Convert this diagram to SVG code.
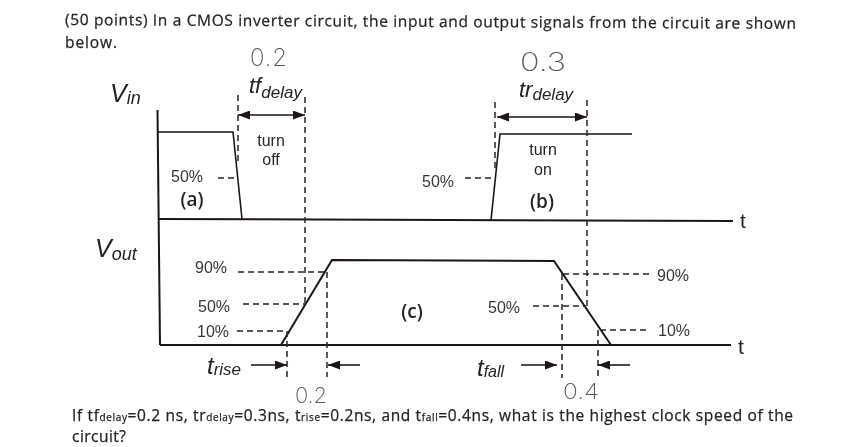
<svg xmlns="http://www.w3.org/2000/svg" width="867" height="447" viewBox="0 0 867 447">
<style>
.ln{fill:none;stroke:#1c1618;stroke-width:2}
.th{fill:none;stroke:#1c1618;stroke-width:1.6}
.ds{fill:none;stroke:#2a2426;stroke-width:1.5;stroke-dasharray:6 4}
.ar{fill:none;stroke:#1c1618;stroke-width:1.6}
.body{font-family:"Open Sans","Liberation Sans",sans-serif;font-size:15.5px;fill:#262224;stroke:#262224;stroke-width:0.25}
.sub{font-size:10px}
.pct{font-family:"Liberation Sans",Arial,sans-serif;font-size:16px;fill:#3a3638}
.lab{font-family:"Liberation Sans",Arial,sans-serif;font-size:16px;fill:#2a2628;text-anchor:middle}
.cap{font-family:"Open Sans","Liberation Sans",sans-serif;font-size:19px;font-weight:600;fill:#262224;text-anchor:middle}
.it{font-family:"Liberation Sans",Arial,sans-serif;font-style:italic;fill:#262224}
.up{font-style:normal}
.hand{font-family:"Inter","Liberation Sans",sans-serif;font-weight:200;fill:#5a5658}
</style>
<defs>
<marker id="ah" viewBox="0 0 12 9" refX="12" refY="4.5" markerWidth="12" markerHeight="9" markerUnits="userSpaceOnUse" orient="auto-start-reverse"><path d="M0 0L12 4.5L0 9Z" fill="#1c1618"/></marker>
<filter id="soft" x="0" y="0" width="100%" height="100%"><feGaussianBlur stdDeviation="0.35"/></filter>
</defs>
<rect width="867" height="447" fill="#fff"/>
<g filter="url(#soft)">
<g id="question-top">
<text class="body" x="65" y="25" textLength="731" lengthAdjust="spacing" transform="rotate(0.3 65 25)">(50 points) In a CMOS inverter circuit, the input and output signals from the circuit are shown</text>
<text class="body" x="65" y="48" textLength="52" lengthAdjust="spacing">below.</text>
</g>
<g id="waveforms">
<path class="ln" d="M157.5 110L160 345"/>
<path class="ln" d="M158 219L733 221"/>
<path class="ln" d="M160 345L731 345"/>
<path class="th" d="M158 132H233L242 219"/>
<path class="th" d="M491 220L500 134H632"/>
<path class="ln" d="M281 345L332 260L554 261L611 345"/>
</g>
<g id="guides">
<path class="ds" d="M238 95V165"/>
<path class="ds" d="M305 97V303"/>
<path class="ds" d="M495 102V172"/>
<path class="ds" d="M587 100V307"/>
<path class="ds" d="M218 178H236"/>
<path class="ds" d="M465 178H493"/>
<path class="ds" d="M238 272H327"/>
<path class="ds" d="M243 304H305"/>
<path class="ds" d="M237 331H287"/>
<path class="ds" d="M327 272V377"/>
<path class="ds" d="M287 331V377"/>
<path class="ds" d="M563 274H652"/>
<path class="ds" d="M533 306H586"/>
<path class="ds" d="M600 330H650"/>
<path class="ds" d="M562 274V378"/>
<path class="ds" d="M598 330V378"/>
</g>
<g id="arrows">
<path class="ar" d="M238 115H305" marker-start="url(#ah)" marker-end="url(#ah)"/>
<path class="ar" d="M497 117H587" marker-start="url(#ah)" marker-end="url(#ah)"/>
<path class="ar" d="M251 365H287" marker-end="url(#ah)"/>
<path class="ar" d="M360 365H328" marker-end="url(#ah)"/>
<path class="ar" d="M521 365H557" marker-end="url(#ah)"/>
<path class="ar" d="M630 365H598" marker-end="url(#ah)"/>
</g>
<g id="labels">
<text class="it" x="110" y="102" font-size="25">V<tspan font-size="18" dy="2">in</tspan></text>
<text class="it" x="95" y="257" font-size="25">V<tspan font-size="18" dy="3">out</tspan></text>
<text class="it" x="249" y="93" font-size="22">tf<tspan font-size="17" dy="5">delay</tspan></text>
<text class="it" x="519" y="97" font-size="22">tr<tspan font-size="17" dy="3">delay</tspan></text>
<text class="it" x="207" y="374" font-size="24">t<tspan font-size="17" dy="1">rise</tspan></text>
<text class="it" x="477" y="376" font-size="24">t<tspan font-size="16" dy="1">fall</tspan></text>
<text class="lab" x="271" y="146">turn</text>
<text class="lab" x="271" y="165">off</text>
<text class="lab" x="543" y="155">turn</text>
<text class="lab" x="543" y="175">on</text>
<text class="cap" x="192" y="206">(a)</text>
<text class="cap" x="542" y="208">(b)</text>
<text class="cap" x="412" y="318">(c)</text>
<text class="pct" x="171" y="182">50%</text>
<text class="pct" x="422" y="187">50%</text>
<text class="pct" x="195" y="273">90%</text>
<text class="pct" x="198" y="312">50%</text>
<text class="pct" x="197" y="337">10%</text>
<text class="pct" x="488" y="313">50%</text>
<text class="pct" x="657" y="281">90%</text>
<text class="pct" x="658" y="336">10%</text>
<text class="it up" x="740" y="228" font-size="21">t</text>
<text class="it up" x="738" y="354" font-size="21">t</text>
</g>
<g id="handwritten">
<text class="hand" x="250" y="66" font-size="24" textLength="37">0.2</text>
<text class="hand" x="520" y="71" font-size="26" textLength="46" lengthAdjust="spacingAndGlyphs">0.3</text>
<text class="hand" x="295" y="403" font-size="22" textLength="32">0.2</text>
<text class="hand" x="563" y="399" font-size="22" textLength="36" lengthAdjust="spacingAndGlyphs">0.4</text>
</g>
<g id="question-bottom">
<text class="body" x="72" y="421" textLength="721" lengthAdjust="spacing">If tf<tspan class="sub">delay</tspan>=0.2 ns, tr<tspan class="sub">delay</tspan>=0.3ns, t<tspan class="sub">rise</tspan>=0.2ns, and t<tspan class="sub">fall</tspan>=0.4ns, what is the highest clock speed of the</text>
<text class="body" x="72" y="442" textLength="54" lengthAdjust="spacing">circuit?</text>
</g>
</g>
</svg>
